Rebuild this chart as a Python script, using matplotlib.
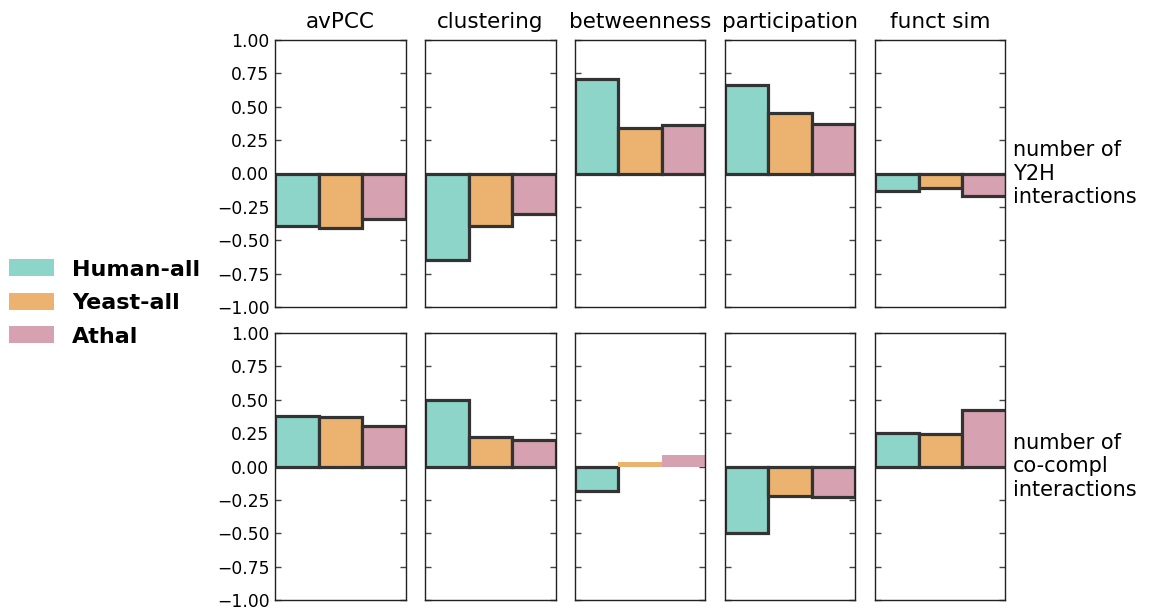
import matplotlib
matplotlib.use("Agg")
import matplotlib.pyplot as plt
from matplotlib.patches import Patch

measures = ["avPCC", "clustering", "betweenness", "participation", "funct sim"]
row_labels = ["number of\nY2H\ninteractions", "number of\nco-compl\ninteractions"]
datasets = ["Human-all", "Yeast-all", "Athal"]
colors = ["#8dd5c8", "#ecb370", "#d6a1b0"]

# correlation per measure: [Human-all, Yeast-all, Athal]
y2h_corr = [
    [-0.39, -0.41, -0.34],
    [-0.65, -0.39, -0.30],
    [0.71, 0.34, 0.36],
    [0.66, 0.45, 0.37],
    [-0.13, -0.11, -0.17],
]
cocompl_corr = [
    [0.38, 0.37, 0.30],
    [0.50, 0.22, 0.20],
    [-0.18, 0.03, 0.085],
    [-0.50, -0.22, -0.23],
    [0.25, 0.24, 0.42],
]
# bars outlined only when significant
y2h_sig = [[True] * 3 for _ in measures]
cocompl_sig = [
    [True, True, True],
    [True, True, True],
    [True, False, False],
    [True, True, True],
    [True, True, True],
]
yticks = [-1, -0.75, -0.5, -0.25, 0, 0.25, 0.5, 0.75, 1]

W, H = 1158, 611
fig = plt.figure(figsize=(W / 100, H / 100), dpi=100)

col_left = [275, 425, 574.5, 724.5, 875]
col_w = 130.5
row_spans = [(40, 307), (333, 600)]

rows = [(y2h_corr, y2h_sig), (cocompl_corr, cocompl_sig)]
for r, (corr, sig) in enumerate(rows):
    top, bot = row_spans[r]
    for c, name in enumerate(measures):
        ax = fig.add_axes([col_left[c] / W, 1 - bot / H, col_w / W, (bot - top) / H])
        for i, v in enumerate(corr[c]):
            ax.bar(i, v, width=1.0, color=colors[i],
                   edgecolor="#333333", linewidth=2.3 if sig[c][i] else 0,
                   zorder=2)
        ax.set_xlim(-0.5, 2.5)
        ax.set_ylim(-1, 1)
        ax.set_xticks([])
        ax.set_yticks(yticks)
        ax.tick_params(axis="y", direction="in", length=4, width=1,
                       left=True, right=True, labelsize=12.3, pad=4,
                       color="#444444")
        if c == 0:
            ax.set_yticklabels([f"{t:.2f}".replace("-", "\u2212") for t in yticks])
        else:
            ax.set_yticklabels([])
        for sp in ax.spines.values():
            sp.set_linewidth(1.0)
            sp.set_color("#222222")
        if r == 0:
            ax.set_title(name, fontsize=15.5, pad=9)
        if c == len(measures) - 1:
            ax.text(1.06, 0.5, row_labels[r], transform=ax.transAxes,
                    fontsize=15, va="center", ha="left", linespacing=1.2)

handles = [Patch(facecolor=col, edgecolor="none") for col in colors]
fig.legend(handles, datasets, loc="center left",
           bbox_to_anchor=(0.0, 1 - 303 / H), frameon=False,
           prop={"size": 16, "weight": "bold"},
           handlelength=2.05, handleheight=0.8, handletextpad=0.8,
           labelspacing=0.6, borderaxespad=0.0, borderpad=0.4)

fig.savefig("out.png", dpi=100)
